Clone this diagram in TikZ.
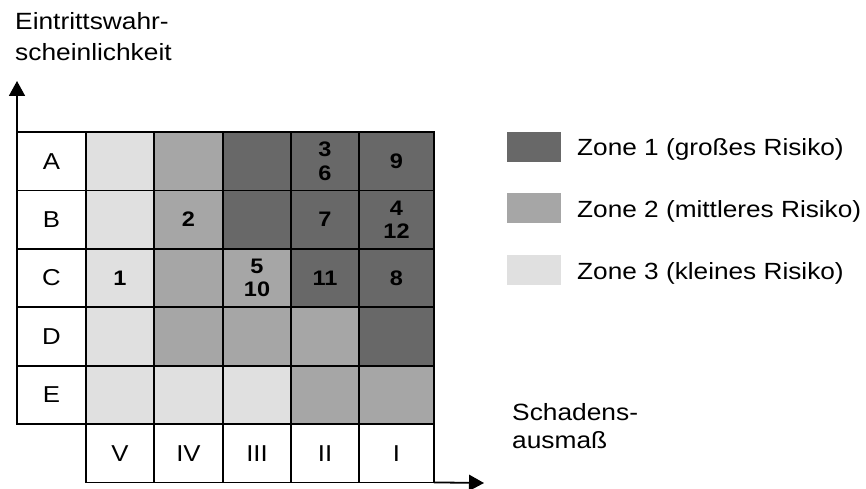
\documentclass[tikz,border=0pt]{standalone}
\usepackage{fontspec}
\setmainfont{Liberation Sans}[FakeStretch=1.12]
\usetikzlibrary{arrows.meta}

\definecolor{zoneone}{RGB}{104,104,104}
\definecolor{zonetwo}{RGB}{166,166,166}
\definecolor{zonethree}{RGB}{224,224,224}

\begin{document}
\begin{tikzpicture}[x=1pt,y=-1pt,
  rule/.style={line width=1.8pt},
  axis/.style={rule, -{Triangle[length=15pt,width=16pt]}},
  cell/.style={draw=black, line width=1.8pt, inner sep=0pt, outer sep=0pt,
    anchor=north west, minimum height=58.4pt, align=center,
    font=\fontsize{21}{23.5}\selectfont\bfseries},
  zA/.style={cell, fill=zoneone},
  zB/.style={cell, fill=zonetwo},
  zC/.style={cell, fill=zonethree},
  headcell/.style={cell, fill=white, font=\fontsize{23}{27}\selectfont},
  wV/.style={minimum width=68pt},
  wIV/.style={minimum width=69pt},
  wIII/.style={minimum width=68pt},
  wII/.style={minimum width=68pt},
  wI/.style={minimum width=75pt},
  key/.style={inner sep=0pt, outer sep=0pt, minimum width=54pt, minimum height=30pt},
  keytext/.style={anchor=base west, inner sep=0pt, font=\fontsize{23.4}{28}\selectfont},
  axistext/.style={anchor=base west, inner sep=0pt, font=\fontsize{23.5}{28}\selectfont},
]
\useasboundingbox (0,0) rectangle (866,489);

% axis captions
\node[axistext] (ytitleA) at (15,30) {Eintrittswahr-};
\node[axistext] (ytitleB) at (15,61) {scheinlichkeit};
\node[axistext] (xtitleA) at (512,420) {Schadens-};
\node[axistext] (xtitleB) at (512,448) {ausmaß};

% row A
\node[headcell, minimum width=69pt] (A) at (17,132) {A};
\node[zC, wV]   (A5) at (86,132)  {};
\node[zB, wIV]  (A4) at (154,132) {};
\node[zA, wIII] (A3) at (223,132) {};
\node[zA, wII]  (A2) at (291,132) {3\\6};
\node[zA, wI]   (A1) at (359,132) {9};
% row B
\node[headcell, minimum width=69pt] (B) at (17,190.4) {B};
\node[zC, wV]   (B5) at (86,190.4)  {};
\node[zB, wIV]  (B4) at (154,190.4) {2};
\node[zA, wIII] (B3) at (223,190.4) {};
\node[zA, wII]  (B2) at (291,190.4) {7};
\node[zA, wI]   (B1) at (359,190.4) {4\\12};
% row C
\node[headcell, minimum width=69pt] (C) at (17,248.8) {C};
\node[zC, wV]   (C5) at (86,248.8)  {1};
\node[zB, wIV]  (C4) at (154,248.8) {};
\node[zB, wIII] (C3) at (223,248.8) {5\\10};
\node[zA, wII]  (C2) at (291,248.8) {11};
\node[zA, wI]   (C1) at (359,248.8) {8};
% row D
\node[headcell, minimum width=69pt] (D) at (17,307.2) {D};
\node[zC, wV]   (D5) at (86,307.2)  {};
\node[zB, wIV]  (D4) at (154,307.2) {};
\node[zB, wIII] (D3) at (223,307.2) {};
\node[zB, wII]  (D2) at (291,307.2) {};
\node[zA, wI]   (D1) at (359,307.2) {};
% row E
\node[headcell, minimum width=69pt] (E) at (17,365.6) {E};
\node[zC, wV]   (E5) at (86,365.6)  {};
\node[zC, wIV]  (E4) at (154,365.6) {};
\node[zC, wIII] (E3) at (223,365.6) {};
\node[zB, wII]  (E2) at (291,365.6) {};
\node[zB, wI]   (E1) at (359,365.6) {};
% damage classes
\node[headcell, wV]   (V)   at (86,424)  {V};
\node[headcell, wIV]  (IV)  at (154,424) {IV};
\node[headcell, wIII] (III) at (223,424) {III};
\node[headcell, wII]  (II)  at (291,424) {II};
\node[headcell, wI]   (I)   at (359,424) {I};

% axes
\coordinate (ytip) at (17,81);
\coordinate (xtip) at (484,483);
\draw[axis] (A.north west) -- (ytip);
\draw[axis] (I.south east) -- (xtip);

% legend
\node[key, fill=zoneone]   (k1) at (534,147) {};
\node[key, fill=zonetwo]   (k2) at (534,208) {};
\node[key, fill=zonethree] (k3) at (534,270) {};
\node[keytext] (t1) at (577,156) {Zone 1 (großes Risiko)};
\node[keytext] (t2) at (577,217) {Zone 2 (mittleres Risiko)};
\node[keytext] (t3) at (577,279) {Zone 3 (kleines Risiko)};
\end{tikzpicture}
\end{document}
